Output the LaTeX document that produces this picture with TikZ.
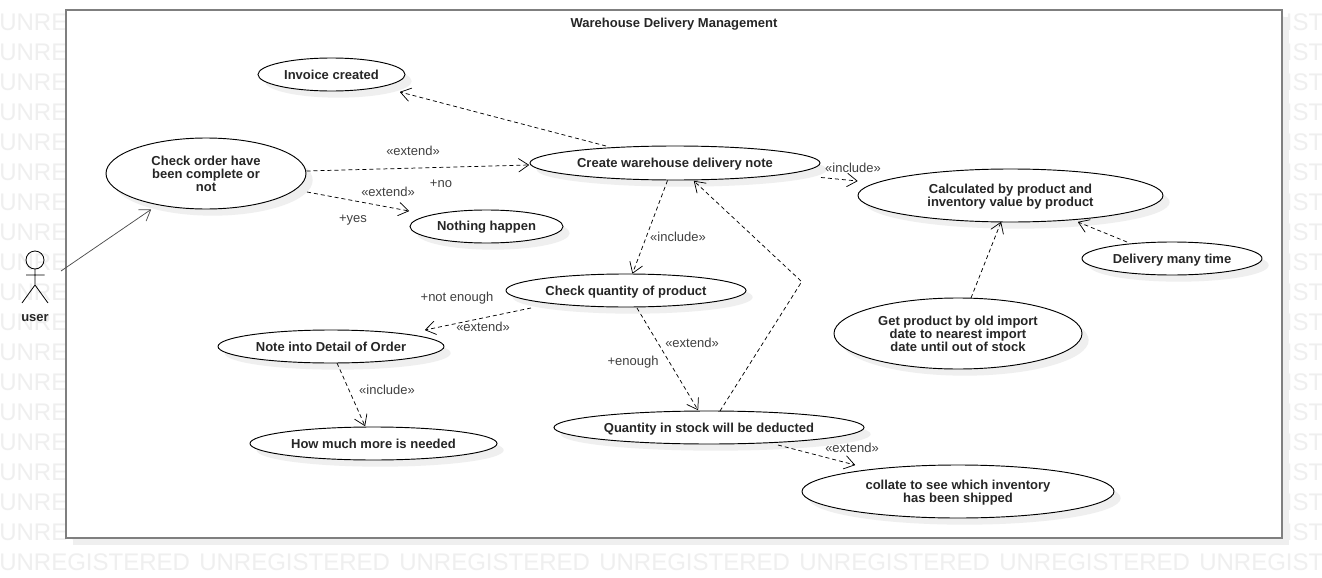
\documentclass[tikz,border=0pt]{standalone}
\usepackage{fontspec}
\setmainfont{Liberation Sans}
\usetikzlibrary{shapes.geometric,arrows.meta,shadows}
\definecolor{wmark}{HTML}{EFEFEF}
\definecolor{framegray}{HTML}{7F7F7F}
\definecolor{shadowgray}{HTML}{EFEFEF}
\definecolor{labelgray}{HTML}{404040}
\tikzset{
  usecase/.style={draw=black,line width=0.7pt,fill=white,ellipse,inner sep=0pt,outer sep=0pt,
    align=center,font=\fontsize{9.75}{9.75}\selectfont\bfseries,text=black!85,
    drop shadow={shadow xshift=5pt,shadow yshift=-5pt,fill=shadowgray,opacity=1}},
  frame/.style={draw=framegray,line width=1.5pt,fill=white,rectangle,inner sep=0pt,
    drop shadow={shadow xshift=5pt,shadow yshift=-5pt,fill=shadowgray,opacity=1}},
  watermark/.style={anchor=west,inner sep=0pt,text=wmark,font=\fontsize{18}{18}\selectfont},
  conlabel/.style={inner sep=0pt,text=labelgray,font=\fontsize{9.75}{9.75}\selectfont},
  titletext/.style={inner sep=0pt,text=black!85,font=\fontsize{9.75}{9.75}\selectfont\bfseries},
  dep/.style={draw=black,line width=0.55pt,dash pattern=on 3pt off 2.25pt,
    -{Straight Barb[length=7.5pt,width=10pt,line width=0.55pt,round]}},
  assoc/.style={draw=black!70,line width=0.55pt,
    -{Straight Barb[length=7.5pt,width=10pt,line width=0.55pt,round]}},
  actorline/.style={draw=black,line width=0.6pt}
}
\newcommand{\ucnode}[6]{\node[usecase,minimum width=#4*0.75pt,minimum height=#5*0.75pt] (#1) at (#2,#3) {\rule{0pt}{8.8pt}#6\rule[-2.05pt]{0pt}{0pt}};}
\begin{document}
\begin{tikzpicture}[x=0.75pt,y=-0.75pt]
\useasboundingbox (0,0) rectangle (1322,578);
\clip (0,0) rectangle (1322,578);
\fill[white] (0,0) rectangle (1322,578);
% watermark
\foreach \r in {0,...,18}{
  \foreach \c in {0,...,6}{
    \node[watermark] (wm-\r-\c) at ({\c*200-1},{22+\r*30}) {UNREGISTERED};
  }
}
% system frame
\node[frame,minimum width=1216*0.75pt,minimum height=528*0.75pt] (system) at (674,274) {};
\node[titletext] (title) at (674,24) {Warehouse Delivery Management};
% actor
\node[inner sep=0pt,minimum width=26*0.75pt,minimum height=53*0.75pt] (actor) at (35,277) {};
\draw[actorline] (35,260) circle[radius=9];
\draw[actorline] (35,269) -- (35,285) (26,275) -- (44.5,275) (22,303) -- (35,285) -- (48,303);
\node[inner sep=0pt,text=black!85,font=\fontsize{9.75}{9.75}\selectfont\bfseries] (userlabel) at (35,318) {user};
% use cases
\ucnode{invoice}{331.5}{74.5}{147}{33}{Invoice created}
\ucnode{order}{206}{173.5}{200}{71}{Check order have\\been complete or\\not}
\ucnode{create}{675}{163}{290}{34}{Create warehouse delivery note}
\ucnode{nothing}{486.5}{226.5}{153}{33}{Nothing happen}
\ucnode{calc}{1010.5}{195.5}{305}{53}{Calculated by product and\\inventory value by product}
\ucnode{delivery}{1172}{258.5}{180}{33}{Delivery many time}
\ucnode{qty}{626}{290.5}{240}{33}{Check quantity of product}
\ucnode{note}{331}{346.5}{226}{33}{Note into Detail of Order}
\ucnode{getp}{958}{333.5}{248}{71}{Get product by old import\\date to nearest import\\date until out of stock}
\ucnode{deduct}{709}{427.5}{310}{33}{Quantity in stock will be deducted}
\ucnode{howmuch}{373.5}{443.5}{247}{33}{How much more is needed}
\ucnode{collate}{958}{491.5}{312}{53}{collate to see which inventory\\has been shipped}
% connectors
\draw[assoc] ([shift={(26,-6)}]actor.center) -- ([shift={(-55,36)}]order.center);
\draw[dep] ([shift={(-69,-17)}]create.center) -- ([shift={(68.5,17.5)}]invoice.center);
\draw[dep] ([shift={(100.5,-2.5)}]order.center) -- ([shift={(-146,2)}]create.center);
\draw[dep] ([shift={(101,18.5)}]order.center) -- ([shift={(-77.5,-15.5)}]nothing.center);
\draw[dep] ([shift={(-7.5,17.5)}]create.center) -- ([shift={(6.5,-17)}]qty.center);
\draw[dep] ([shift={(146,14.5)}]create.center) -- ([shift={(-153,-14.5)}]calc.center);
\draw[dep] ([shift={(11,-16.5)}]deduct.center) -- (801.7,281.7) -- ([shift={(19,18)}]create.center);
\draw[dep] ([shift={(-95,17.5)}]qty.center) -- ([shift={(94,-16.5)}]note.center);
\draw[dep] ([shift={(11,17.5)}]qty.center) -- ([shift={(-11,-17.5)}]deduct.center);
\draw[dep] ([shift={(6,16.5)}]note.center) -- ([shift={(-8.5,-17.5)}]howmuch.center);
\draw[dep] ([shift={(69,17.5)}]deduct.center) -- ([shift={(-103,-26.5)}]collate.center);
\draw[dep] ([shift={(13,-35.5)}]getp.center) -- ([shift={(-9.5,26.5)}]calc.center);
\draw[dep] ([shift={(-45,-16.5)}]delivery.center) -- ([shift={(67.5,26.5)}]calc.center);
% connector labels
\node[conlabel] (l1) at (413,151) {«extend»};
\node[conlabel] (l2) at (441,184) {+no};
\node[conlabel] (l3) at (388,192) {«extend»};
\node[conlabel] (l4) at (353,220) {+yes};
\node[conlabel] (l5) at (678,237) {«include»};
\node[conlabel] (l6) at (853,168) {«include»};
\node[conlabel] (l7) at (457,298) {+not enough};
\node[conlabel] (l8) at (483,327) {«extend»};
\node[conlabel] (l9) at (692,343) {«extend»};
\node[conlabel] (l10) at (633,362) {+enough};
\node[conlabel] (l11) at (387,390) {«include»};
\node[conlabel] (l12) at (852,448) {«extend»};
\end{tikzpicture}
\end{document}
